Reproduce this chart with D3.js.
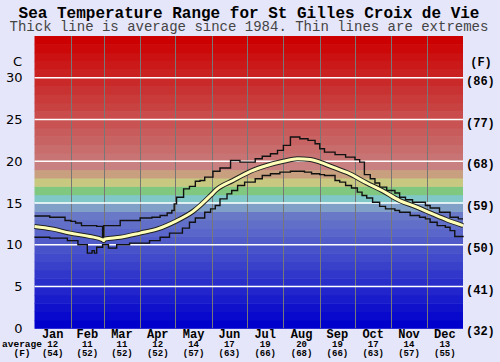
<!DOCTYPE html>
<html>
<head lang="en">
    <meta charset="UTF-8">
    <title>Sea Temperature Range</title>
    <style>
        body { margin: 0; background: #e6e6fa; }
        svg { display: block; }
    </style>
</head>
<body>
<div id="chart"></div>

<script src="https://cdnjs.cloudflare.com/ajax/libs/d3/7.8.5/d3.min.js"></script>
<script>
// month labels and monthly averages (C and F)
var months = ["Jan", "Feb", "Mar", "Apr", "May", "Jun", "Jul", "Aug", "Sep", "Oct", "Nov", "Dec"];
var monthStart = [0, 31, 59, 90, 120, 151, 181, 212, 243, 273, 304, 334, 365];
var monthAvgC = [12, 11, 11, 12, 14, 17, 19, 20, 19, 17, 14, 13];
var monthAvgF = [54, 52, 52, 52, 57, 63, 66, 68, 66, 63, 57, 55];

// y ticks
var tempTicks = [0, 5, 10, 15, 20, 25, 30];

// average since 1984: [day of year, C]
var avgLine = [
    [0, 12.2], [15, 11.9], [30, 11.4], [47, 11.0], [58, 10.6], [59, 10.5], [60, 10.7], [73, 10.9],
    [90, 11.4], [105, 11.9], [120, 12.8], [135, 14.0], [150, 15.9], [155, 16.6],
    [169, 17.7], [184, 18.8], [198, 19.5], [212, 20.0], [224, 20.3], [235, 20.2],
    [243, 19.9], [254, 19.3], [267, 18.6], [283, 17.4], [296, 16.5], [311, 15.3],
    [324, 14.6], [339, 13.7], [351, 13.0], [365, 12.3]
];

// highest recorded: [day, C]
var maxLine = [
    [0, 13.45], [13, 13.3], [26, 12.9], [31, 12.8], [35, 12.6], [40, 12.3],
    [53, 12.2], [58, 10.7], [59, 12.3], [73, 12.9], [90, 13.2], [100, 13.3],
    [107, 13.5], [113, 13.8], [117, 14.1], [119, 14.9], [121, 15.7], [127, 16.7],
    [132, 17.0], [137, 17.6], [141, 17.7], [145, 18.1], [152, 18.8], [158, 19.2],
    [167, 20.1], [175, 19.9], [188, 20.3], [194, 20.6], [201, 20.9], [207, 21.3],
    [212, 21.9], [218, 22.9], [226, 22.7], [233, 22.5], [239, 22.1], [243, 21.5],
    [247, 21.1], [256, 20.8], [265, 20.5], [273, 20.2], [277, 19.9], [281, 18.4],
    [286, 17.9], [290, 17.4], [294, 16.9], [300, 16.5], [307, 16.2], [311, 15.7],
    [316, 15.4], [322, 15.1], [333, 14.7], [337, 14.4], [345, 13.9], [354, 13.3],
    [361, 13.1], [365, 13.1]
];

// lowest recorded: [day, C]
var minLine = [
    [0, 10.9], [13, 10.8], [28, 10.5], [37, 10.0], [45, 9.0], [49, 9.3],
    [51, 9.0], [53, 9.7], [58, 10.0], [63, 9.6], [70, 10.0], [81, 10.2],
    [98, 10.5], [107, 10.9], [115, 11.4], [126, 12.0], [132, 12.7], [137, 13.2],
    [145, 13.9], [150, 14.3], [154, 14.7], [158, 15.5], [164, 16.1], [168, 16.5],
    [173, 17.1], [179, 17.5], [188, 17.9], [194, 18.3], [201, 18.5], [209, 18.7],
    [218, 18.8], [230, 18.7], [236, 18.5], [243, 18.4], [247, 18.3], [256, 17.7],
    [260, 17.5], [265, 17.1], [270, 16.8], [275, 16.3], [279, 15.9], [283, 15.6],
    [288, 15.1], [294, 14.6], [299, 14.3], [307, 14.1], [311, 13.9], [320, 13.5],
    [328, 13.3], [333, 13.1], [337, 12.7], [343, 12.3], [350, 12.1], [354, 11.7],
    [358, 11.0], [365, 10.9]
];

var width = 500, height = 362;
var plotLeft = 34.5, plotRight = 463, plotTop = 36, plotBottom = 328.3;

var svg = d3.select("#chart").append("svg")
        .attr("width", width)
        .attr("height", height);

var x = d3.scaleLinear().domain([0, 365]).range([plotLeft, plotRight]);
var y = d3.scaleLinear().domain([0, 35]).range([plotBottom, plotTop]);

// colour of each 1 degree band
var bandColour = d3.scaleLinear()
        .domain([0.5, 13.5, 14.5, 15.5, 16.5, 17.5, 18.5, 19.5, 20.5, 27.5, 34.5])
        .range(["#0000cc", "#6a78c8", "#80a0c8", "#80c8c8", "#80c880", "#c8c880",
                "#c8a080", "#c88080", "#c87474", "#c93a3a", "#cc0000"])
        .interpolate(d3.interpolateRgb);

svg.append("g")
        .selectAll("rect")
        .data(d3.range(0, 35))
        .enter().append("rect")
        .attr("x", plotLeft)
        .attr("width", plotRight - plotLeft)
        .attr("y", function (d) { return y(d + 1); })
        .attr("height", function (d) { return y(d) - y(d + 1) + 0.5; })
        .attr("fill", function (d) { return bandColour(d + 0.5); });

// month dividers
svg.append("g")
        .selectAll("line")
        .data(monthStart.slice(1, 12))
        .enter().append("line")
        .attr("x1", function (d) { return Math.round(x(d)) + 0.5; })
        .attr("x2", function (d) { return Math.round(x(d)) + 0.5; })
        .attr("y1", plotTop)
        .attr("y2", plotBottom)
        .attr("stroke", "#777777")
        .attr("stroke-width", 1);

// white grid every 5 degrees
svg.append("g")
        .selectAll("line")
        .data(tempTicks.slice(1))
        .enter().append("line")
        .attr("x1", plotLeft)
        .attr("x2", plotRight)
        .attr("y1", function (d) { return y(d); })
        .attr("y2", function (d) { return y(d); })
        .attr("stroke", "#ffffff")
        .attr("stroke-width", 1.6);

var stepLine = d3.line()
        .x(function (d) { return x(d[0]); })
        .y(function (d) { return y(d[1]); })
        .curve(d3.curveStepAfter);

var smoothLine = d3.line()
        .x(function (d) { return x(d[0]); })
        .y(function (d) { return y(d[1]); })
        .curve(d3.curveMonotoneX);

[maxLine, minLine].forEach(function (data) {
    svg.append("path")
            .attr("d", stepLine(data))
            .attr("fill", "none")
            .attr("stroke", "#111")
            .attr("stroke-width", 1.4);
});

svg.append("path")
        .attr("d", smoothLine(avgLine))
        .attr("fill", "none")
        .attr("stroke", "#222")
        .attr("stroke-width", 5);
svg.append("path")
        .attr("d", smoothLine(avgLine))
        .attr("fill", "none")
        .attr("stroke", "#ffffb8")
        .attr("stroke-width", 3);

// left axis (C)
var leftAxis = svg.append("g")
        .attr("transform", "translate(" + plotLeft + ",0)")
        .call(d3.axisLeft(y).tickValues(tempTicks).tickSize(0).tickPadding(12));
leftAxis.select(".domain").remove();
leftAxis.selectAll("text")
        .attr("font-family", "'DejaVu Sans', Verdana, sans-serif")
        .attr("font-size", 13)
        .attr("fill", "#000");

svg.append("text")
        .attr("x", 22)
        .attr("y", 61)
        .attr("dy", "0.35em")
        .attr("text-anchor", "end")
        .attr("font-family", "'DejaVu Sans', Verdana, sans-serif")
        .attr("font-size", 13)
        .text("C");

// right axis (F)
var rightAxis = svg.append("g")
        .attr("transform", "translate(" + plotRight + ",0)")
        .call(d3.axisRight(y).tickValues(tempTicks).tickSize(0).tickPadding(3)
            .tickFormat(function (d) { return "(" + Math.round(d * 9 / 5 + 32) + ")"; }));
rightAxis.select(".domain").remove();
rightAxis.selectAll("text")
        .attr("dy", "0.55em")
        .attr("font-family", "'Liberation Mono', 'Courier New', monospace")
        .attr("font-weight", "bold")
        .attr("font-size", 12)
        .attr("fill", "#000");

svg.append("text")
        .attr("x", 481)
        .attr("y", 66)
        .attr("text-anchor", "middle")
        .attr("font-family", "'Liberation Mono', 'Courier New', monospace")
        .attr("font-weight", "bold")
        .attr("font-size", 12)
        .text("(F)");

// title
svg.append("text")
        .attr("x", 249)
        .attr("y", 18)
        .attr("text-anchor", "middle")
        .attr("font-family", "'Liberation Mono', 'Courier New', monospace")
        .attr("font-weight", "bold")
        .attr("font-size", 16)
        .text("Sea Temperature Range for St Gilles Croix de Vie");

svg.append("text")
        .attr("x", 249)
        .attr("y", 31)
        .attr("text-anchor", "middle")
        .attr("font-family", "'Liberation Mono', 'Courier New', monospace")
        .attr("font-size", 14)
        .attr("fill", "#444")
        .text("Thick line is average since 1984. Thin lines are extremes");

// month labels with averages
var mono = "'Liberation Mono', 'Courier New', monospace";
var bottomRows = svg.append("g")
        .selectAll("g")
        .data(months)
        .enter().append("g")
        .attr("transform", function (d, i) {
            return "translate(" + x((monthStart[i] + monthStart[i + 1]) / 2) + ",0)";
        })
        .attr("text-anchor", "middle")
        .attr("font-family", mono)
        .attr("font-weight", "bold");

bottomRows.append("text")
        .attr("y", 338)
        .attr("font-size", 12)
        .text(function (d) { return d; });
bottomRows.append("text")
        .attr("y", 347)
        .attr("font-size", 9)
        .text(function (d, i) { return monthAvgC[i]; });
bottomRows.append("text")
        .attr("y", 356)
        .attr("font-size", 9)
        .text(function (d, i) { return "(" + monthAvgF[i] + ")"; });

svg.append("text")
        .attr("x", 22)
        .attr("y", 347)
        .attr("text-anchor", "middle")
        .attr("font-family", mono)
        .attr("font-weight", "bold")
        .attr("font-size", 9.5)
        .text("average");
svg.append("text")
        .attr("x", 22)
        .attr("y", 356)
        .attr("text-anchor", "middle")
        .attr("font-family", mono)
        .attr("font-weight", "bold")
        .attr("font-size", 9.5)
        .text("(F)");
</script>
</body>
</html>
